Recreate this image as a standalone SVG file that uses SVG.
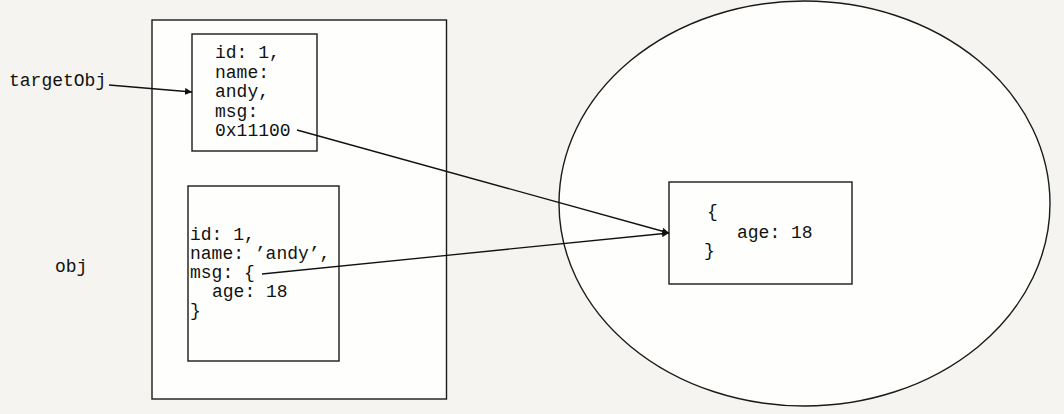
<svg xmlns="http://www.w3.org/2000/svg" width="1064" height="414" viewBox="0 0 1064 414">
  <style>
    .box { fill: #fefefd; stroke: #1a1a1a; stroke-width: 1.4; }
    .t { font-family: "Liberation Mono", "DejaVu Sans Mono", monospace; font-size: 18px; fill: #111; }
    .edge { stroke: #111; stroke-width: 1.3; fill: none; marker-end: url(#arrow); }
  </style>
  <defs>
    <marker id="arrow" viewBox="0 0 10 10" refX="10" refY="5" markerWidth="7" markerHeight="7" markerUnits="userSpaceOnUse" orient="auto">
      <path d="M0,0 L10,5 L0,10 z" fill="#111"/>
    </marker>
  </defs>
  <rect x="0" y="0" width="1064" height="414" fill="#f5f4f0"/>

  <g id="heap">
    <ellipse class="box" cx="804.5" cy="203.5" rx="245.5" ry="202.5"/>
  </g>

  <g id="obj">
    <rect class="box" x="152" y="20" width="294.5" height="379"/>
    <text class="t" x="55" y="272">obj</text>
  </g>

  <g id="targetObj-label">
    <text class="t" x="9" y="86">targetObj</text>
  </g>

  <g id="targetObj">
    <rect class="box" x="192" y="34" width="125" height="117"/>
    <text class="t" x="215" y="58">id: 1,</text>
    <text class="t" x="215" y="77.5">name:</text>
    <text class="t" x="215" y="97">andy,</text>
    <text class="t" x="215" y="116.5">msg:</text>
    <text class="t" x="215" y="136">0x11100</text>
  </g>

  <g id="objLiteral">
    <rect class="box" x="188" y="186" width="151" height="175"/>
    <text class="t" x="190" y="240">id: 1,</text>
    <text class="t" x="190" y="259">name: ’andy’,</text>
    <text class="t" x="190" y="278">msg: {</text>
    <text class="t" x="212" y="297">age: 18</text>
    <text class="t" x="190" y="316">}</text>
  </g>

  <g id="msgObj">
    <rect class="box" x="669" y="182" width="183" height="102"/>
    <text class="t" x="707" y="217">{</text>
    <text class="t" x="737" y="238">age: 18</text>
    <text class="t" x="704" y="256">}</text>
  </g>

  <g id="connectors">
    <line class="edge" x1="109" y1="85" x2="192" y2="92"/>
    <line class="edge" x1="297" y1="130" x2="669" y2="233"/>
    <line class="edge" x1="262" y1="274" x2="669" y2="233"/>
  </g>
</svg>
